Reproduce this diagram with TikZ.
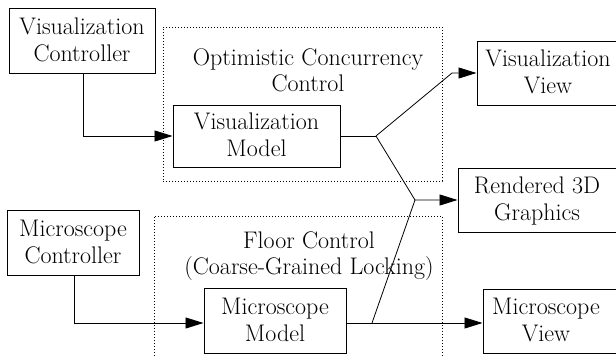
\documentclass[tikz,border=0pt]{standalone}
\usetikzlibrary{arrows.meta}
\newcommand{\twoline}[2]{\begin{tabular}{@{}c@{}}\rule{0pt}{22.9pt}#1\\#2\end{tabular}}
\begin{document}
\begin{tikzpicture}[x=1pt,y=-1pt,
  box/.style={draw,line width=1pt,inner sep=0pt,font=\fontsize{24}{27}\selectfont},
  group/.style={draw,line width=0.9pt,dash pattern=on 1pt off 2pt,inner sep=0pt},
  grouplabel/.style={inner sep=0pt,align=center,font=\fontsize{24}{25.5}\selectfont},
  conn/.style={line width=0.8pt},
  arr/.style={conn,-{Triangle[length=18pt,width=11pt]}}]
\useasboundingbox (0,0) rectangle (616,356);
\clip (0,0) rectangle (616,356);
% group boxes
\node[group,minimum width=279pt,minimum height=154pt] (occ) at (302.5,104) {};
\node[group,minimum width=288pt,minimum height=170pt] (fc) at (298,301) {};
\node[grouplabel] (occl) at (308,70.5) {Optimistic Concurrency\\Control};
\node[grouplabel,font=\fontsize{24}{26}\selectfont] (fcl) at (309,256.5) {Floor Control\\(Coarse-Grained Locking)};
% boxes
\node[box,minimum width=146pt,minimum height=65pt] (vc) at (82,40.5) {\twoline{Visualization}{Controller}};
\node[box,minimum width=167pt,minimum height=62pt] (vm) at (256.5,136) {\twoline{Visualization}{Model}};
\node[box,minimum width=183pt,minimum height=64pt] (vv) at (568.5,73) {\twoline{Visualization}{View}\hspace*{41pt}};
\node[box,minimum width=202pt,minimum height=64pt] (r3d) at (559,200) {\twoline{Rendered 3D}{Graphics}\hspace*{44pt}};
\node[box,minimum width=132pt,minimum height=65pt] (mc) at (73,242.5) {\twoline{Microscope}{Controller}};
\node[box,minimum width=142pt,minimum height=65pt] (mm) at (275,320.5) {\twoline{Microscope}{Model}};
\node[box,minimum width=177pt,minimum height=64pt] (mv) at (571.5,321) {\twoline{Microscope}{View}\hspace*{51pt}};
% junctions
\coordinate (j1) at (376,136);
\coordinate (k1) at (452,73);
\coordinate (j2) at (415,200);
\coordinate (j3) at (372,323);
% connectors
\draw[arr] (vc.south -| 83,0) |- (vm.west);
\draw[arr] (mc.south -| 74,0) |- (mm.west |- 0,323);
\draw[conn] (vm.east) -- (j1);
\draw[arr] (j1) -- (k1) -- (vv.west);
\draw[arr] (j1) -- (j2) -- (r3d.west);
\draw[arr] (mm.east |- j3) -- (mv.west |- j3);
\draw[conn] (j3) -- (j2);
\end{tikzpicture}
\end{document}
